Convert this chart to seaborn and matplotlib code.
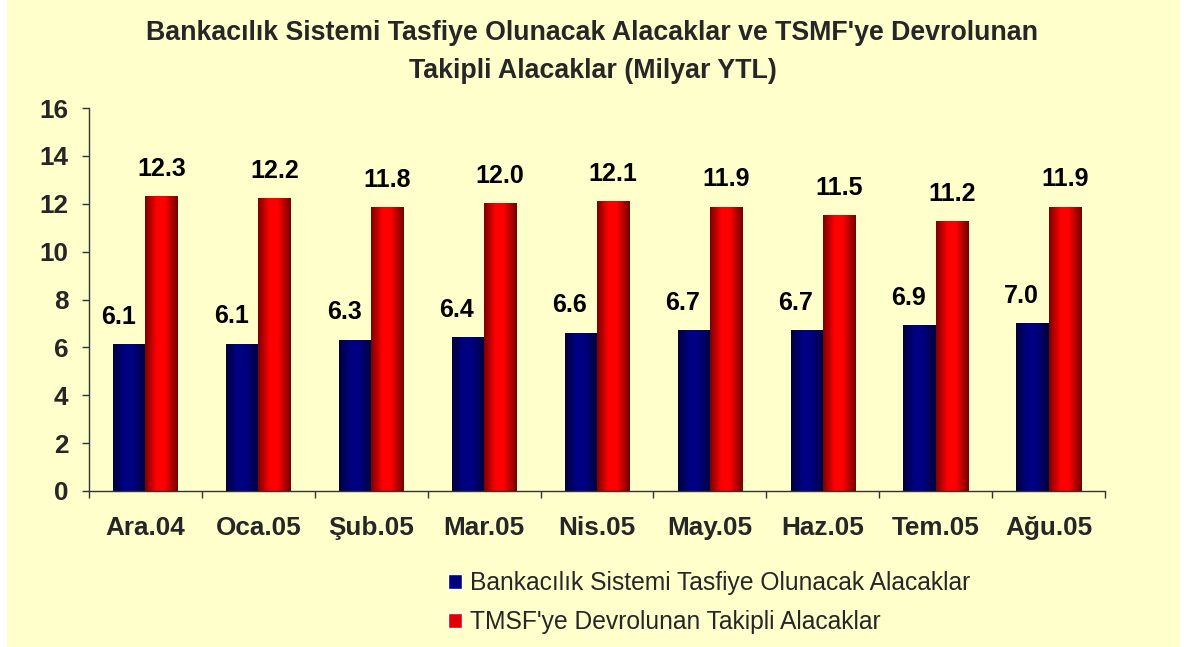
import numpy as np
import pandas as pd
import matplotlib
matplotlib.use("Agg")
import matplotlib.pyplot as plt
import seaborn as sns
from matplotlib.colors import LinearSegmentedColormap
from matplotlib.patches import Rectangle

months = ["Ara.04", "Oca.05", "Şub.05", "Mar.05", "Nis.05", "May.05", "Haz.05", "Tem.05", "Ağu.05"]
tasfiye = [6.12, 6.14, 6.3, 6.4, 6.6, 6.7, 6.7, 6.9, 7.0]
tmsf = [12.3, 12.2, 11.84, 12.0, 12.08, 11.86, 11.5, 11.24, 11.86]
series_names = ["Bankacılık Sistemi Tasfiye Olunacak Alacaklar",
                "TMSF'ye Devrolunan Takipli Alacaklar"]
title = "Bankacılık Sistemi Tasfiye Olunacak Alacaklar ve TSMF'ye Devrolunan\nTakipli Alacaklar (Milyar YTL)"

df = pd.DataFrame({
    "month": months * 2,
    "value": tasfiye + tmsf,
    "series": [series_names[0]] * len(months) + [series_names[1]] * len(months),
})

sns.set_theme(style="white")
plt.rcParams["font.family"] = ["Liberation Sans", "DejaVu Sans"]

W, H = 1185, 647
fig = plt.figure(figsize=(W / 100, H / 100), dpi=100, facecolor="white")
fig.patches.append(Rectangle((7 / W, 0), (1180 - 7) / W, 1, transform=fig.transFigure,
                             facecolor="#FFFFCC", edgecolor="none", zorder=-10))
ax = fig.add_axes([89 / W, 1 - 491 / H, (1105 - 89) / W, (491 - 108) / H])
ax.set_facecolor("none")

navy, red = "#000080", "#FF0000"
sns.barplot(data=df, x="month", y="value", hue="series", palette=[navy, red],
            width=0.57, gap=0, dodge=True, ax=ax, legend=False, saturation=1)

ax.set_xlim(-0.5, len(months) - 0.5)
ax.set_ylim(0, 16)

cmaps = {
    navy: LinearSegmentedColormap.from_list("b", [(0, "#00003A"), (0.35, "#000084"), (0.62, "#000080"), (1, "#000038")]),
    red: LinearSegmentedColormap.from_list("r", [(0, "#7A0000"), (0.35, "#FF0000"), (0.6, "#FF0000"), (1, "#700000")]),
}
grad = np.linspace(0, 1, 256).reshape(1, -1)
patches = [p for p in ax.patches]
for i, p in enumerate(patches):
    key = navy if i < len(months) else red
    x0, y0 = p.get_x(), p.get_y()
    w, h = p.get_width(), p.get_height()
    ax.imshow(grad, extent=(x0, x0 + w, y0, y0 + h), aspect="auto", cmap=cmaps[key],
              zorder=p.get_zorder() + 0.1, interpolation="bilinear")
    p.set_alpha(0)
    val = h
    dx = -8 if key == navy else 0
    ax.annotate(f"{val:.1f}", (x0 + w / 2, y0 + h), xytext=(dx, 20), textcoords="offset points",
                ha="center", va="center", fontsize=18, fontweight="bold", color="black")

ax.set_xlim(-0.5, len(months) - 0.5)
ax.set_ylim(0, 16)
ax.set_yticks(np.arange(0, 17, 2))
ax.set_xlabel("")
ax.set_ylabel("")
ax.set_xticks(range(len(months)))
ax.set_xticklabels(months)
ax.set_xticks(np.arange(-0.5, len(months), 1), minor=True)
ax.tick_params(axis="x", which="major", length=0, pad=18, labelsize=18.8)
ax.tick_params(axis="x", which="minor", length=5, width=1, color="#333333", direction="out", bottom=True)
ax.tick_params(axis="y", which="major", length=5, width=1, color="#333333", direction="out", left=True, pad=10, labelsize=18.8)
for lab in ax.get_xticklabels() + ax.get_yticklabels():
    lab.set_fontweight("bold")

for s in ["top", "right"]:
    ax.spines[s].set_visible(False)
for s in ["left", "bottom"]:
    ax.spines[s].set_color("#333333")
    ax.spines[s].set_linewidth(1)

fig.text(0.5, 1 - 52 / H, title, ha="center", va="center", fontsize=19.3, fontweight="bold",
         linespacing=1.55)

handles = [Rectangle((0, 0), 1, 1, facecolor=navy), Rectangle((0, 0), 1, 1, facecolor="#E00000")]
fig.legend(handles, series_names, loc="upper left", bbox_to_anchor=(448 / W, 1 - 571 / H),
           frameon=False, fontsize=17.7, handlelength=0.58, handleheight=0.58, handletextpad=0.3,
           labelspacing=0.61, borderpad=0, borderaxespad=0)

fig.savefig("out.png", dpi=100, facecolor="white")
